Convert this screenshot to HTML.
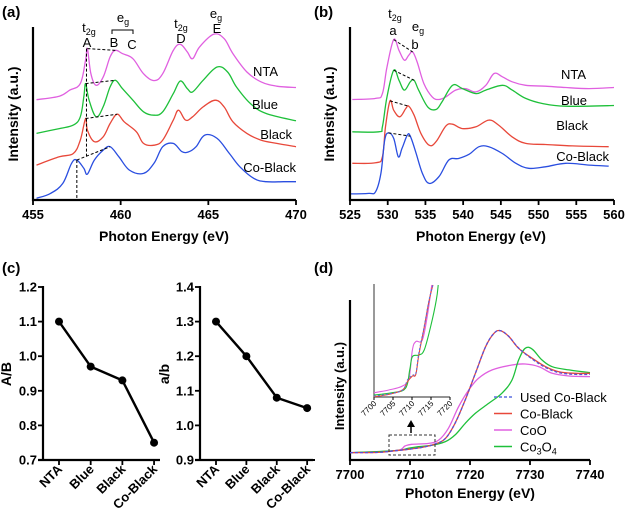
<!DOCTYPE html>
<html><head><meta charset="utf-8"><style>
html,body{margin:0;padding:0;background:#fff}
svg{display:block;font-family:"Liberation Sans",Arial,sans-serif}
.tk{font-size:13px;font-weight:bold}
.tt{font-size:14px;font-weight:bold}
.lb{font-size:13px}
.pl{font-size:15px;font-weight:bold}
</style></head><body>
<svg id="chart" width="625" height="515" viewBox="0 0 625 515"></svg>
<script>
// ===== Panel (a) Co L-edge data =====
const aNtaE=[455.2,456.5,457.1,457.7,458.0,458.1,458.3,458.6,459.0,459.4,459.7,460.1,460.7,461.3,461.9,462.4,463.0,463.4,463.8,464.1,464.5,465.3,465.9,466.4,467.2,468.0,468.9,470.0];
const aNtaI=[0.58,0.60,0.635,0.673,0.81,0.875,0.73,0.663,0.71,0.827,0.865,0.846,0.817,0.73,0.69,0.73,0.865,0.9,0.856,0.817,0.885,0.958,0.933,0.846,0.74,0.683,0.658,0.65];
const aBlueE=[455.2,456.5,457.3,457.7,457.9,458.0,458.2,458.6,459.0,459.4,459.7,460.1,460.7,461.3,461.9,462.4,463.0,463.4,463.8,464.1,464.7,465.5,466.1,466.6,467.4,468.3,470.0];
const aBlueI=[0.385,0.413,0.433,0.481,0.596,0.673,0.577,0.481,0.538,0.654,0.692,0.644,0.577,0.51,0.49,0.51,0.615,0.688,0.644,0.625,0.692,0.769,0.74,0.654,0.558,0.5,0.458];
const aBlackE=[455.2,456.5,457.3,457.7,458.0,458.1,458.5,459.0,459.4,459.8,460.2,460.9,461.3,461.9,462.4,463.0,463.3,463.7,464.1,464.7,465.4,465.9,466.4,467.2,468.0,468.9,470.0];
const aBlackI=[0.202,0.25,0.269,0.346,0.471,0.404,0.337,0.365,0.442,0.496,0.452,0.394,0.327,0.317,0.346,0.462,0.519,0.462,0.481,0.538,0.577,0.538,0.452,0.385,0.346,0.327,0.308];
const aCoE=[455.2,456.0,456.7,457.2,457.5,457.9,458.1,458.5,459.0,459.4,459.9,460.5,461.3,461.9,462.4,463.0,463.5,463.9,464.3,464.8,465.5,466.2,466.8,467.6,468.3,469.3,470.0];
const aCoI=[0.01,0.038,0.096,0.212,0.231,0.183,0.15,0.231,0.288,0.308,0.25,0.173,0.154,0.212,0.308,0.327,0.279,0.279,0.308,0.375,0.356,0.269,0.192,0.125,0.106,0.106,0.106];
const aTicks=[455,460,465,470];
// ===== Panel (b) O K-edge data =====
const bNtaE=[525.3,528.4,529.3,529.9,530.8,531.5,532.2,532.8,533.3,533.9,534.8,535.9,536.8,537.7,539.0,540.3,541.7,543.0,544.1,545.2,546.5,548.3,550.9,553.6,556.7,560.0];
const bNtaI=[0.581,0.587,0.615,0.769,0.927,0.865,0.808,0.837,0.856,0.798,0.673,0.596,0.581,0.596,0.635,0.644,0.625,0.663,0.731,0.712,0.683,0.663,0.658,0.65,0.644,0.65];
const bBlueE=[525.3,528.8,529.3,529.9,530.8,531.5,532.2,533.0,533.5,534.1,535.3,536.4,537.2,538.6,539.9,541.7,543.0,545.2,546.5,548.3,550.5,553.6,560.0];
const bBlueI=[0.394,0.394,0.423,0.596,0.75,0.692,0.635,0.683,0.692,0.635,0.538,0.523,0.567,0.663,0.644,0.615,0.635,0.663,0.635,0.587,0.558,0.542,0.546];
const bBlackE=[525.3,528.4,529.3,529.7,530.3,530.8,531.6,532.4,532.8,533.5,534.4,535.5,536.4,537.7,538.6,539.9,541.7,543.4,544.7,546.5,548.3,550.9,554.5,559.3];
const bBlackI=[0.212,0.215,0.25,0.423,0.573,0.519,0.481,0.529,0.542,0.49,0.385,0.317,0.337,0.427,0.438,0.413,0.423,0.462,0.433,0.365,0.327,0.321,0.313,0.308];
const bCoE=[525.1,527.5,528.4,529.1,529.6,530.1,530.8,531.4,531.9,532.6,533.0,533.7,534.6,535.5,536.8,538.1,539.4,540.8,542.1,543.4,545.2,547.0,548.7,550.9,553.6,556.7,559.3];
const bCoI=[0.035,0.038,0.048,0.154,0.346,0.388,0.356,0.25,0.298,0.375,0.369,0.279,0.154,0.096,0.135,0.231,0.24,0.265,0.308,0.308,0.269,0.212,0.183,0.192,0.212,0.202,0.196];
const bTicks=[525,530,535,540,545,550,555,560];
// ===== Panel (c) ratios =====
const cCats=["NTA","Blue","Black","Co-Black"];
const cAB=[1.1,0.97,0.93,0.75];
const cab=[1.3,1.2,1.08,1.05];
const cTicksL=[0.7,0.8,0.9,1.0,1.1,1.2];
const cTicksR=[0.9,1.0,1.1,1.2,1.3,1.4];
// ===== Panel (d) Co K-edge =====
const dCoE=[7700,7704.7,7707.5,7709.7,7712.0,7714.2,7715.9,7717.5,7719.2,7720.9,7722.6,7724.0,7725.1,7726.5,7728.1,7730.4,7732.6,7734.8,7737.6,7740];
const dCoI=[0.046,0.048,0.058,0.067,0.079,0.1,0.135,0.229,0.375,0.542,0.708,0.792,0.808,0.771,0.698,0.635,0.583,0.552,0.542,0.542];
const dUsedI=[0.046,0.048,0.058,0.067,0.079,0.1,0.135,0.229,0.375,0.542,0.708,0.792,0.808,0.771,0.7,0.63,0.578,0.546,0.535,0.535];
const dCoOE=[7700,7707.5,7709.2,7710.3,7713.1,7714.8,7716.4,7718.1,7719.8,7721.4,7723.7,7727.0,7729.2,7731.5,7733.7,7736.5,7740];
const dCoOI=[0.046,0.058,0.088,0.098,0.104,0.125,0.198,0.333,0.438,0.51,0.563,0.594,0.6,0.583,0.542,0.525,0.521];
const dCo3E=[7700,7707.5,7709.7,7711.4,7713.6,7715.9,7717.5,7719.2,7720.9,7723.1,7725.3,7727.0,7728.1,7729.2,7730.4,7732.0,7733.7,7736.5,7740];
const dCo3I=[0.046,0.058,0.073,0.083,0.092,0.115,0.156,0.229,0.292,0.354,0.417,0.5,0.625,0.698,0.692,0.625,0.583,0.563,0.546];
const dTicks=[7700,7710,7720,7730,7740];
// inset
const iCoOE=[7700,7703.9,7707.5,7709.2,7710.1,7711.0,7712.7,7714.0,7715.2];
const iCoOI=[0.036,0.06,0.096,0.164,0.418,0.493,0.507,0.716,1.0];
const iCoE=[7700,7703.9,7707.5,7708.8,7710.1,7711.0,7711.8,7713.2,7714.5,7715.5];
const iCoI=[0.0,0.021,0.06,0.134,0.185,0.2,0.373,0.62,0.86,1.0];
const iUsedI=[0.006,0.024,0.06,0.149,0.194,0.209,0.388,0.627,0.866,1.0];
const iCo3E=[7700,7704.8,7708.3,7709.4,7710.1,7711.8,7713.2,7714.9,7716.4,7716.9];
const iCo3I=[0.015,0.036,0.075,0.239,0.358,0.373,0.418,0.627,0.866,1.0];
const iTicks=[7700,7705,7710,7715,7720];

const NS="http://www.w3.org/2000/svg";
const svg=document.getElementById('chart');
function mk(tag,attrs,parent,txt){const e=document.createElementNS(NS,tag);for(const k in attrs)e.setAttribute(k,attrs[k]);if(txt!==undefined)e.textContent=txt;(parent||svg).appendChild(e);return e;}
function lin(d0,d1,r0,r1){return v=>r0+(v-d0)/(d1-d0)*(r1-r0);}
function pathD(xs,ys,fx,fy,smooth){
  const P=xs.map((x,i)=>[fx(x),fy(ys[i])]);
  if(!smooth)return P.map((p,i)=>(i?'L':'M')+p[0].toFixed(1)+','+p[1].toFixed(1)).join('');
  let d='M'+P[0][0].toFixed(1)+','+P[0][1].toFixed(1);
  const t=0.18;
  for(let i=0;i<P.length-1;i++){
    const p0=P[i-1]||P[i],p1=P[i],p2=P[i+1],p3=P[i+2]||P[i+1];
    const c1=[p1[0]+(p2[0]-p0[0])*t,p1[1]+(p2[1]-p0[1])*t];
    const c2=[p2[0]-(p3[0]-p1[0])*t,p2[1]-(p3[1]-p1[1])*t];
    d+='C'+c1[0].toFixed(1)+','+c1[1].toFixed(1)+' '+c2[0].toFixed(1)+','+c2[1].toFixed(1)+' '+p2[0].toFixed(1)+','+p2[1].toFixed(1);
  }
  return d;
}
function series(name,xs,ys,fx,fy,color,w,dash,straight){
  const p=mk('path',{d:pathD(xs,ys,fx,fy,!straight),fill:'none',stroke:color,'stroke-width':w||1.3,'stroke-linejoin':'round'});
  if(dash)p.setAttribute('stroke-dasharray',dash);
  
  
  return p;
}
function txt(name,x,y,s,cls,anchor,extra){
  const t=mk('text',Object.assign({x:x,y:y,class:cls,'text-anchor':anchor||'middle'},extra||{}),svg,s);
  
  
  return t;
}
function sub(name,x,y,base,s){
  const t=mk('text',{x:x,y:y,class:'lb','text-anchor':'middle'},svg);
  
  
  t.innerHTML=base+'<tspan font-size="9" dy="3">'+s+'</tspan>';
  return t;
}
function line(name,x1,y1,x2,y2,w,dash,color){
  const l=mk('line',{x1:x1,y1:y1,x2:x2,y2:y2,stroke:color||'#000','stroke-width':w||1});
  if(dash)l.setAttribute('stroke-dasharray',dash);
  
  
  return l;
}
const MAG='#e060e0',GRN='#1ec03a',RED='#e8483a',BLU='#2a4ee0';

// ---------- panel a ----------
{
const fx=lin(455,470,33,296), fy=lin(0,1,200,27);
txt('panel-a-label',2,17,'(a)','pl','start');
series('nta-curve-a',aNtaE,aNtaI,fx,fy,MAG);
series('blue-curve-a',aBlueE,aBlueI,fx,fy,GRN);
series('black-curve-a',aBlackE,aBlackI,fx,fy,RED);
series('co-black-curve-a',aCoE,aCoI,fx,fy,BLU);
line('y-axis-a',33,27,33,201,2.2);
line('x-axis-a',32,200,296,200,2.2);
aTicks.forEach(t=>{line('x-tick-a',fx(t),200,fx(t),205,1.8);txt('x-tick-label-a',fx(t),219,t,'tk');});
txt('x-axis-title-a',164,241,'Photon Energy (eV)','tt');
txt('y-axis-title-a',18,114,'Intensity (a.u.)','tt','middle',{transform:'rotate(-90 18 114)'});
const pk=[[aNtaE[5],aNtaI[5],aNtaE[10],aNtaI[10]],[aBlueE[5],aBlueI[5],aBlueE[10],aBlueI[10]],[aBlackE[4],aBlackI[4],aBlackE[9],aBlackI[9]],[aCoE[4],aCoI[4],aCoE[9],aCoI[9]]];
pk.forEach(p=>line('peak-ratio-line-a',fx(p[0]),fy(p[1]),fx(p[2]),fy(p[3]),1,'3,2'));
line('peak-a-guide',fx(458.05),fy(0.875),fx(458.05),fy(0.25),1,'3,2');
line('peak-a-guide-co',fx(457.5),fy(0.231),fx(457.5),200,1,'3,2');
sub('t2g-label-a',89,32,'t','2g');
txt('A-label',87,47,'A','lb');
txt('B-label',114,47,'B','lb');
txt('C-label',132,49,'C','lb');
mk('path',{d:'M112,34V30H133V34',fill:'none',stroke:'#000','stroke-width':1});
sub('eg-label-a',123,22,'e','g');
sub('t2g-label-d',181,28,'t','2g');
txt('D-label',181,43,'D','lb');
sub('eg-label-e',216,18,'e','g');
txt('E-label',217,33,'E','lb');
txt('nta-label-a',278,76,'NTA','lb','end');
txt('blue-label-a',278,109,'Blue','lb','end');
txt('black-label-a',292,139,'Black','lb','end');
txt('co-black-label-a',296,172,'Co-Black','lb','end');
}
// ---------- panel b ----------
{
const fx=lin(525,560,350,614), fy=lin(0,1,200,27);
txt('panel-b-label',314,17,'(b)','pl','start');
series('nta-curve-b',bNtaE,bNtaI,fx,fy,MAG);
series('blue-curve-b',bBlueE,bBlueI,fx,fy,GRN);
series('black-curve-b',bBlackE,bBlackI,fx,fy,RED);
series('co-black-curve-b',bCoE,bCoI,fx,fy,BLU);
line('y-axis-b',350,27,350,201,2.2);
line('x-axis-b',349,200,614,200,2.2);
bTicks.forEach(t=>{line('x-tick-b',fx(t),200,fx(t),205,1.8);txt('x-tick-label-b',fx(t),219,t,'tk');});
txt('x-axis-title-b',481,241,'Photon Energy (eV)','tt');
txt('y-axis-title-b',334,114,'Intensity (a.u.)','tt','middle',{transform:'rotate(-90 334 114)'});
const pk=[[bNtaE[4],bNtaI[4],bNtaE[8],bNtaI[8]],[bBlueE[4],bBlueI[4],bBlueE[8],bBlueI[8]],[bBlackE[4],bBlackI[4],bBlackE[8],bBlackI[8]],[bCoE[5],bCoI[5],bCoE[10],bCoI[10]]];
pk.forEach(p=>line('peak-ratio-line-b',fx(p[0]),fy(p[1]),fx(p[2]),fy(p[3]),1,'3,2'));
sub('t2g-label-b',395,18,'t','2g');
txt('a-peak-label',393,35,'a','lb');
sub('eg-label-b',418,31,'e','g');
txt('b-peak-label',415,49,'b','lb');
txt('nta-label-b',586,79,'NTA','lb','end');
txt('blue-label-b',587,105,'Blue','lb','end');
txt('black-label-b',588,130,'Black','lb','end');
txt('co-black-label-b',609,161,'Co-Black','lb','end');
}
// ---------- panel c ----------
txt('panel-c-label',2,273,'(c)','pl','start');
function ratioPlot(prefix,ax,ax2,lo,hi,ticks,vals,title,tx){
  const fy=lin(lo,hi,460,287);
  const step=(ax2-ax-20)/3;
  const fx=i=>ax+16+i*step*0.98;
  line(prefix+'-y-axis',ax,286,ax,461,2.2);
  line(prefix+'-x-axis',ax-5,460,ax2,460,2.2);
  ticks.forEach(t=>{line(prefix+'-y-tick',ax-5,fy(t),ax,fy(t),1.8);txt(prefix+'-y-tick-label',ax-6,fy(t)+4.5,t.toFixed(1),'tk','end');});
  cCats.forEach((c,i)=>{line(prefix+'-x-tick',fx(i),460,fx(i),465,1.8);
    txt(prefix+'-x-tick-label',fx(i)+4,470,c,'tk','end',{transform:'rotate(-45 '+(fx(i)+4)+' 470)'});});
  series(prefix+'-line',vals.map((v,i)=>i),vals,fx,fy,'#000',2.4,null,true);
  vals.forEach((v,i)=>{const c=mk('circle',{cx:fx(i),cy:fy(v),r:4,fill:'#000'});
    
    });
  txt(prefix+'-y-title',tx,374,title,'tt','middle',{transform:'rotate(-90 '+tx+' 374)'});
}
ratioPlot('ab-ratio',43,160,0.7,1.2,cTicksL,cAB,'A/B',11);
ratioPlot('a-b-ratio',200,313,0.9,1.4,cTicksR,cab,'a/b',169);
// ---------- panel d ----------
{
const fx=lin(7700,7740,350,590), fy=lin(0,1,460,300);
txt('panel-d-label',314,273,'(d)','pl','start');
line('y-axis-d',350,300,350,461,2.2);
line('x-axis-d',349,460,590,460,2.2);
line('left-stub-d',311,460,315,460,2);
dTicks.forEach(t=>{line('x-tick-d',fx(t),460,fx(t),465,1.8);txt('x-tick-label-d',fx(t),479,t,'tk');});
txt('x-axis-title-d',470,498,'Photon Energy (eV)','tt');
txt('y-axis-title-d',344,386,'Intensity (a.u.)','tt','middle',{transform:'rotate(-90 344 386)',style:'font-size:13px'});
series('coo-curve-d',dCoOE,dCoOI,fx,fy,MAG);
series('co3o4-curve-d',dCo3E,dCo3I,fx,fy,GRN);
series('co-black-curve-d',dCoE,dCoI,fx,fy,RED);
series('used-co-black-curve-d',dCoE,dUsedI,fx,fy,'#5a4ed8',1.3,'3,2');
const zb=mk('rect',{x:389,y:435,width:46,height:20,fill:'none',stroke:'#333','stroke-dasharray':'3,2','stroke-width':1});

line('zoom-arrow',411,433,411,425,1.5);
mk('path',{d:'M407,427L411,420L415,427Z',fill:'#000'});
const ix=lin(7700,7720,374,450), iy=lin(0,1,396.7,285);
line('inset-y-axis',374,284,374,397,1.2,null,'#555');
line('inset-x-axis',374,397,450,397,1.2,null,'#555');
iTicks.forEach(t=>{line('inset-x-tick',ix(t),397,ix(t),400,1);txt('inset-x-tick-label',ix(t)+3,404,t,'','end',{transform:'rotate(-45 '+(ix(t)+3)+' 404)',style:'font-size:8px'});});
series('inset-coo',iCoOE,iCoOI,ix,iy,MAG,1.1);
series('inset-co3o4',iCo3E,iCo3I,ix,iy,GRN,1.1);
series('inset-co-black',iCoE,iCoI,ix,iy,RED,1.1);
series('inset-used-co-black',iCoE,iUsedI,ix,iy,'#5a6ee0',1.1,'2,2');
const leg=[['Used Co-Black','#5a6ee0','3,2'],['Co-Black',RED,null],['CoO',MAG,null],['Co3O4',GRN,null]];
leg.forEach((l,i)=>{const y=397+i*16.5;
  line('legend-swatch',494,y,512,y,1.4,l[2],l[1]);
  if(l[0]==='Co3O4'){const t=mk('text',{x:520,y:y+5,class:'lb'},svg);
    t.innerHTML='Co<tspan font-size="9" dy="3">3</tspan><tspan dy="-3">O</tspan><tspan font-size="9" dy="3">4</tspan>';}
  else txt('legend-entry',520,y+5,l[0],'lb','start');});
}
</script>
</body></html>
